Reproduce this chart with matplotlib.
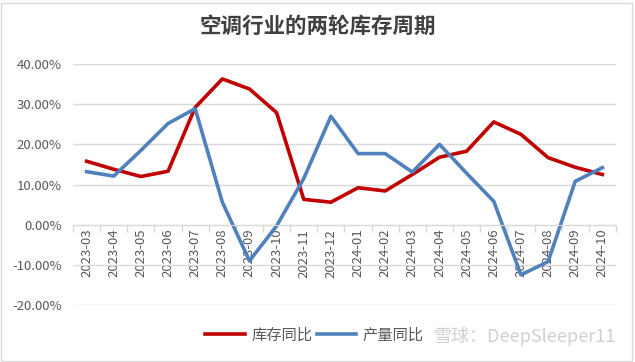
import numpy as np
import matplotlib.pyplot as plt
from matplotlib.patches import Rectangle

## Dados
meses = ['2023-03', '2023-04', '2023-05', '2023-06', '2023-07', '2023-08', '2023-09',
         '2023-10', '2023-11', '2023-12', '2024-01', '2024-02', '2024-03', '2024-04',
         '2024-05', '2024-06', '2024-07', '2024-08', '2024-09', '2024-10']
estoque = [15.8, 13.8, 12.0, 13.3, 29.2, 36.3, 33.8, 27.9, 6.3, 5.6,
           9.2, 8.4, 12.5, 16.8, 18.3, 25.6, 22.5, 16.7, 14.3, 12.5]
producao = [13.2, 12.1, 18.5, 25.2, 28.9, 5.6, -9.0, -0.3, 11.5, 27.0,
            17.7, 17.7, 13.1, 20.0, 12.8, 5.8, -12.5, -9.2, 10.8, 14.2]
yticks = [-20, -10, 0, 10, 20, 30, 40]

## Estilo
plt.rcParams['font.family'] = ['Noto Sans CJK SC', 'DejaVu Sans']
cinza = '#d9d9d9'
texto = '#595959'

fig = plt.figure(figsize=(6.35, 3.62), dpi=100)
ax = fig.add_axes([0.115, 0.1575, 0.855, 0.6655])

for lado in ['top', 'right', 'left']:
    ax.spines[lado].set_visible(False)
ax.spines['bottom'].set_position(('data', 0))
ax.spines['bottom'].set_color(cinza)

x = np.arange(len(meses))
ax.plot(x, estoque, color='#c00000', linewidth=2.6, label='库存同比', solid_joinstyle='round')
ax.plot(x, producao, color='#4f81bd', linewidth=2.6, label='产量同比', solid_joinstyle='round')

ax.set_xlim(-0.5, len(meses) - 0.5)
ax.set_ylim(-20, 40)
ax.set_yticks(yticks)
ax.set_yticklabels(['%.2f%%' % v for v in yticks], color=texto, fontsize=9.5)
ax.grid(axis='y', color=cinza, linewidth=1)
ax.set_axisbelow(True)

ax.set_xticks(x)
ax.set_xticklabels(meses, color=texto, fontsize=9.5)
ax.set_xticks(np.arange(-0.5, len(meses)), minor=True)
ax.tick_params(axis='x', which='major', length=0, pad=3, labelrotation=90)
ax.tick_params(axis='x', which='minor', length=5, color=cinza, width=1)
ax.tick_params(axis='y', length=0, pad=8)

## Título
fig.text(0.5, 0.928, '空调行业的两轮库存周期', ha='center', va='center',
         fontsize=15.5, fontweight='bold', color='#404040')

## Legenda
leg = fig.legend(loc='center', bbox_to_anchor=(0.495, 0.074), ncol=2, frameon=False,
                 fontsize=11, handlelength=2.6, columnspacing=0.3, handletextpad=0.4)
for t in leg.get_texts():
    t.set_color(texto)

## Marca d'água
fig.text(0.97, 0.072, '雪球：DeepSleeper11', ha='right', va='center',
         fontsize=13, color='#d0d0d0')

## Borda
fig.patches.append(Rectangle((0.002, 0.003), 0.994, 0.99, transform=fig.transFigure,
                             fill=False, edgecolor=cinza, linewidth=1))

plt.savefig('out.png', dpi=100)
